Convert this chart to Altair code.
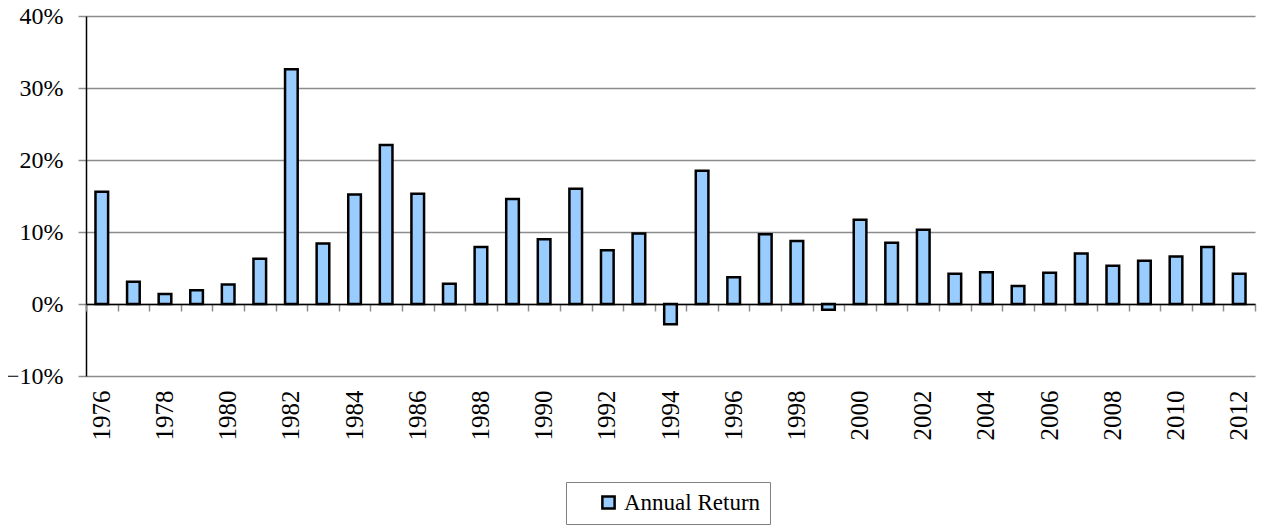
import altair as alt
import pandas as pd

years = list(range(1976, 2013))
returns_pct = [15.6, 3.1, 1.4, 1.9, 2.7, 6.3, 32.6, 8.4, 15.2, 22.1,
               15.3, 2.8, 7.9, 14.6, 9.0, 16.0, 7.45, 9.8, -2.8, 18.5,
               3.7, 9.7, 8.75, -0.8, 11.7, 8.5, 10.3, 4.2, 4.4, 2.5,
               4.35, 7.0, 5.3, 6.0, 6.6, 7.9, 4.2]
series_name = "Annual Return"
y_ticks = [-0.1, 0.0, 0.1, 0.2, 0.3, 0.4]
label_years = years[::2]

df = pd.DataFrame({
    "year": years,
    "ret": [v / 100 for v in returns_pct],
    "series": [series_name] * len(years),
})

W, H = 1169, 360
FONT = "Liberation Serif"

xscale = alt.Scale(paddingInner=0, paddingOuter=0)
yscale = alt.Scale(domain=[-0.1, 0.4], nice=False, zero=False)

bars = alt.Chart(df).mark_bar(
    stroke="black", strokeWidth=2.5, width=alt.RelativeBandSize(0.4)
).encode(
    x=alt.X("year:O", scale=xscale, axis=alt.Axis(
        values=label_years, title=None, labelAngle=-90, ticks=False,
        domain=False, grid=False, labelPadding=14, labelFont=FONT,
        labelFontSize=25, labelColor="black")),
    y=alt.Y("ret:Q", scale=yscale, axis=alt.Axis(
        values=y_ticks, format=".0%", title=None, domainColor="black",
        domainWidth=1.5, tickColor="#8c8c8c", tickSize=8, tickWidth=1.5,
        grid=True, gridColor="#8c8c8c", gridWidth=1.5, labelPadding=15,
        labelFont=FONT, labelFontSize=24, labelColor="black")),
    color=alt.Color("series:N", scale=alt.Scale(range=["#99CCFF"]),
                    legend=alt.Legend(
                        title=None, orient="none", legendX=480, legendY=466,
                        strokeColor="#808080", fillColor="white", padding=9,
                        symbolType="square", symbolSize=150,
                        symbolStrokeColor="black", symbolStrokeWidth=2.5,
                        symbolFillColor="#99CCFF", symbolOffset=22,
                        labelOffset=4, labelFont=FONT, labelFontSize=23,
                        labelColor="black")),
)

zero_axis = alt.Chart(df).mark_bar(opacity=0).encode(
    x=alt.X("year:O", scale=xscale, axis=alt.Axis(
        orient="bottom", offset=-72, labels=False, title=None,
        domainColor="black", domainWidth=1.5, tickColor="#8c8c8c",
        tickSize=7, tickWidth=1.5, tickBand="extent", grid=False, zindex=1)),
    y=alt.Y("ret:Q", scale=yscale, axis=None),
)

chart = alt.layer(bars, zero_axis).resolve_axis(
    x="independent", y="independent"
).properties(
    width=W, height=H,
    padding={"left": 78, "top": 8, "right": 2, "bottom": 150},
    autosize=alt.AutoSizeParams(type="none"),
    background="white",
).configure(font=FONT).configure_view(stroke=None)

chart.save("out.html", embed_options={"renderer": "svg", "actions": False})
